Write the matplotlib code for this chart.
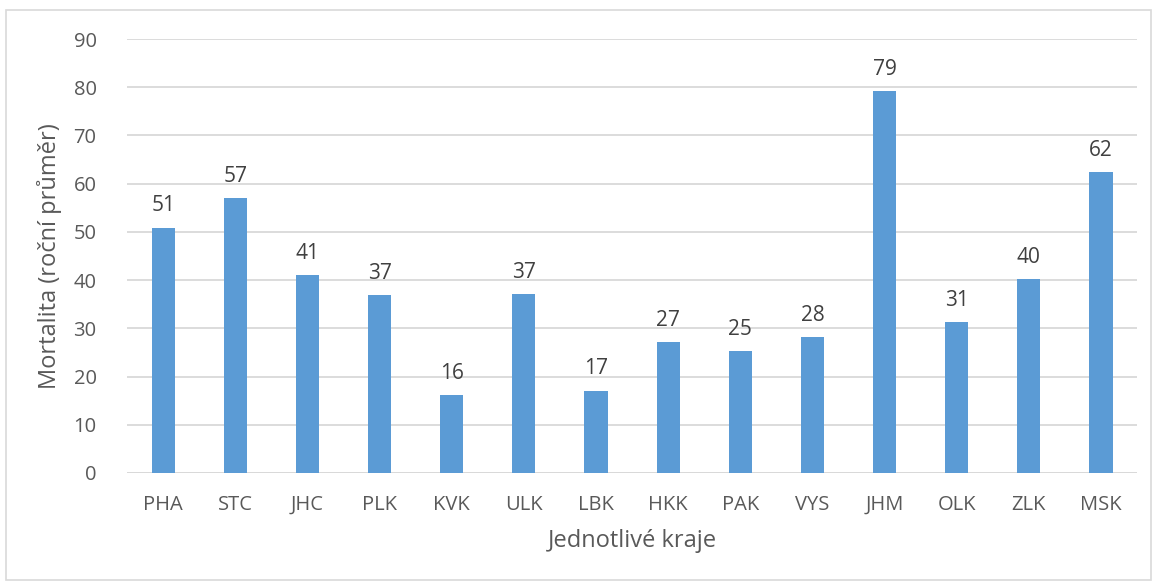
import matplotlib.pyplot as plt
from matplotlib.patches import Rectangle

## Data ------------------------------------------------------------------------
kraje = ['PHA', 'STC', 'JHC', 'PLK', 'KVK', 'ULK', 'LBK', 'HKK', 'PAK', 'VYS',
         'JHM', 'OLK', 'ZLK', 'MSK']
mortalita = [50.9, 57.1, 41.0, 37.0, 16.1, 37.1, 17.1, 27.1, 25.2, 28.2,
             79.3, 31.3, 40.3, 62.4]
popisky = ['51', '57', '41', '37', '16', '37', '17', '27', '25', '28',
           '79', '31', '40', '62']
y_ticks = [0, 10, 20, 30, 40, 50, 60, 70, 80, 90]

## Style -----------------------------------------------------------------------
plt.rcParams['font.family'] = ['Open Sans', 'DejaVu Sans']
txt_col = '#595959'
bar_col = '#5B9BD5'

fig = plt.figure(figsize=(11.56, 5.83), dpi=100)
ax = fig.add_axes([0.110, 0.1887, 0.8736, 0.7443])

x = range(len(kraje))
bars = ax.bar(x, mortalita, width=0.32, color=bar_col, zorder=3)
for b, lab in zip(bars, popisky):
    ax.text(b.get_x() + b.get_width()/2, b.get_height() + 2.3, lab,
            ha='center', va='bottom', fontsize=15, color='#404040')

ax.set_xlim(-0.5, len(kraje) - 0.5)
ax.set_ylim(0, 90)
ax.set_yticks(y_ticks)
ax.set_xticks(list(x))
ax.set_xticklabels(kraje)
ax.tick_params(axis='both', length=0, labelsize=14.5, colors=txt_col)
ax.tick_params(axis='x', pad=16)
ax.tick_params(axis='y', pad=22)
ax.grid(axis='y', color='#D9D9D9', linewidth=1.3, zorder=0)
for s in ax.spines.values():
    s.set_visible(False)
ax.axhline(0, color='#D9D9D9', linewidth=1.3, zorder=1)

ax.set_xlabel('Jednotlivé kraje', fontsize=17, color=txt_col, labelpad=10)
ax.set_ylabel('Mortalita (roční průměr)', fontsize=17, color=txt_col, labelpad=8)

# outer chart frame
fig.patches.append(Rectangle((6/1156, 3/583), 1145/1156, 570/583,
                             transform=fig.transFigure, fill=False,
                             edgecolor='#D9D9D9', linewidth=1.2))

fig.savefig('out.png', dpi=100)
